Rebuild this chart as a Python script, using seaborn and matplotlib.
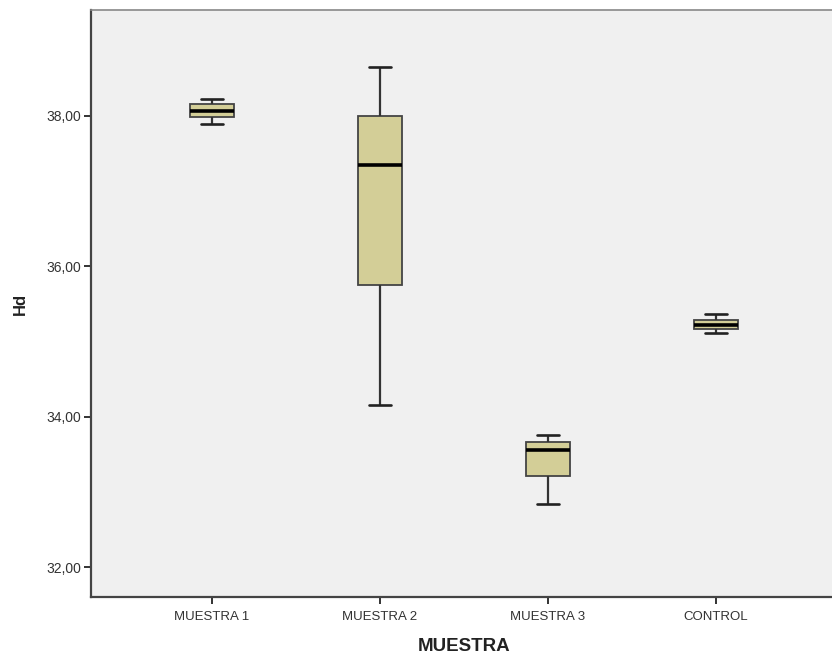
import pandas as pd
import matplotlib
matplotlib.use("Agg")
import matplotlib.pyplot as plt
import seaborn as sns

# Valores (min, Q1, mediana, Q3, max) por grupo
grupos = ["MUESTRA 1", "MUESTRA 2", "MUESTRA 3", "CONTROL"]
muestra_1 = [37.89, 37.98, 38.06, 38.155, 38.23]
muestra_2 = [34.15, 35.75, 37.35, 38.00, 38.65]
muestra_3 = [32.84, 33.21, 33.55, 33.66, 33.76]
control = [35.11, 35.16, 35.22, 35.29, 35.37]
y_ticks = [32, 34, 36, 38]

valores = [muestra_1, muestra_2, muestra_3, control]
df = pd.DataFrame({
    "MUESTRA": [g for g, v in zip(grupos, valores) for _ in v],
    "Hd": [x for v in valores for x in v],
})

sns.set_style("white")
plt.rcParams['font.family'] = ['Liberation Sans', 'DejaVu Sans']

fig = plt.figure(figsize=(8.32, 6.57), dpi=100)
ax = fig.add_axes([91 / 832, 60 / 657, 746 / 832, 587 / 657])
ax.set_facecolor("#f0f0f0")

sns.boxplot(data=df, x="MUESTRA", y="Hd", order=grupos, ax=ax,
            color="#d3ce97", width=0.26, whis=(0, 100), saturation=1,
            linewidth=1.3, linecolor="#333333",
            medianprops=dict(color="black", linewidth=2.6),
            boxprops=dict(edgecolor="#444444"),
            whiskerprops=dict(color="#333333", linewidth=1.6),
            capprops=dict(color="#222222", linewidth=1.9))

ax.set_xlim(-0.72, 3.72)
ax.set_ylim(31.601, 39.409)
ax.set_yticks(y_ticks)
ax.set_yticklabels([f"{t:.2f}".replace(".", ",") for t in y_ticks])

ax.tick_params(axis="both", direction="out", length=5, width=1.4,
               color="#333333", labelsize=9.5, labelcolor="#333333", pad=2,
               left=True, bottom=True)
ax.tick_params(axis="x", pad=5)
ax.tick_params(axis="y", labelsize=10)

for side in ["left", "bottom"]:
    ax.spines[side].set_color("#444444")
    ax.spines[side].set_linewidth(1.6)
ax.spines["top"].set_color("#888888")
ax.spines["top"].set_linewidth(1.2)
ax.spines["right"].set_visible(False)

ax.set_xlabel("MUESTRA", fontsize=13.5, fontweight="bold", color="#222222", labelpad=11)
ax.set_ylabel("Hd", fontsize=12, fontweight="bold", color="#222222", labelpad=13)

fig.savefig("out.png", dpi=100)
